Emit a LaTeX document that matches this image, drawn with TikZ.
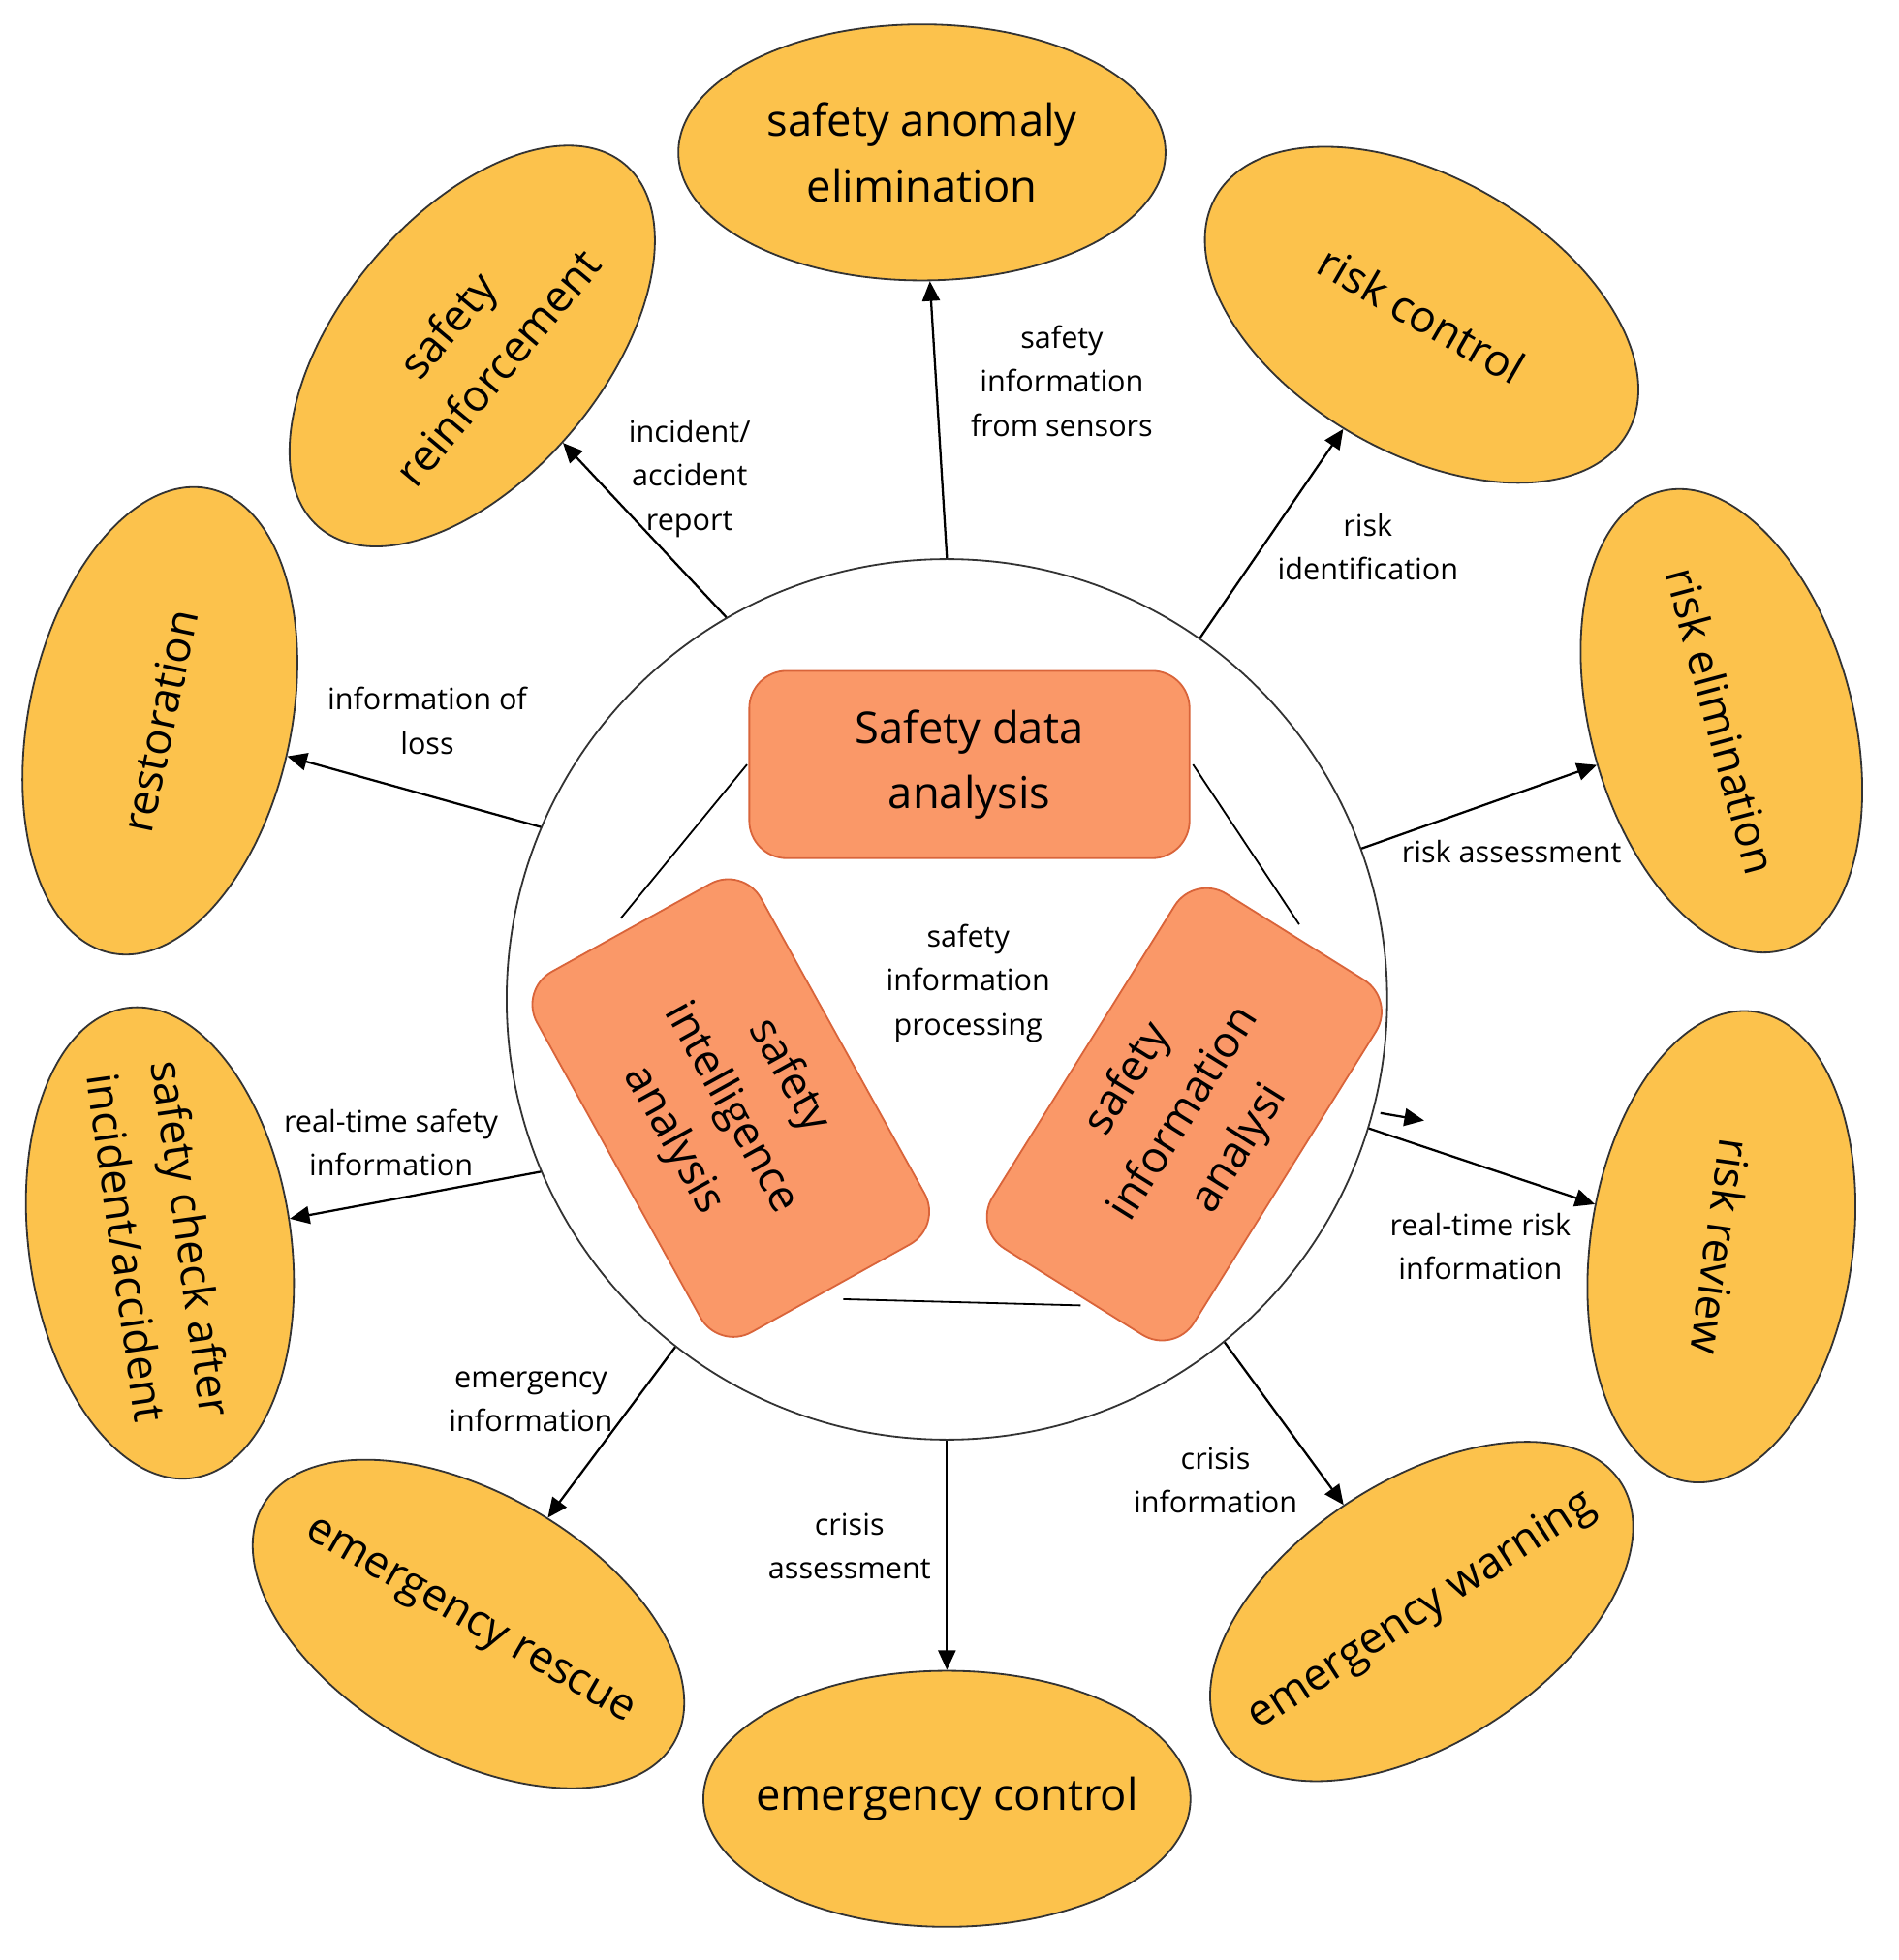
\documentclass[tikz,border=0pt]{standalone}
\usepackage{fontspec}
\setmainfont{Open Sans}
\usetikzlibrary{shapes.geometric,arrows.meta}
\definecolor{ell}{HTML}{FCC24C}
\definecolor{box}{HTML}{FA9868}
\definecolor{boxb}{HTML}{D9643A}
\tikzset{
 oval/.style={ellipse,draw=black!80,line width=0.8pt,fill=ell,minimum width=7.6cm,minimum height=4.2cm,inner sep=0pt},
 otext/.style={align=center,font=\fontsize{20}{30}\selectfont,inner sep=0pt},
 core/.style={rectangle,rounded corners=0.6cm,draw=boxb,line width=0.8pt,fill=box,align=center,font=\fontsize{20}{30}\selectfont},
 lab/.style={align=center,font=\fontsize{13.5}{20}\selectfont,inner sep=1pt},
 arr/.style={-{Triangle[length=9pt,width=8pt]},line width=1pt,black},
}
\begin{document}
\begin{tikzpicture}[x=0.02cm,y=-0.02cm]
\useasboundingbox (0,0) rectangle (1520,1569);
\fill[white] (0,0) rectangle (1520,1569);
\node[circle,draw=black!80,line width=0.8pt,minimum size=14.1cm,inner sep=0pt] (C) at (758,800) {};
% triangle segments
\draw[line width=0.8pt] (598,612) -- (497,735);
\draw[line width=0.8pt] (955,612) -- (1040,740);
\draw[line width=0.8pt] (675,1040) -- (865,1045);
\node[core,minimum width=7.05cm,minimum height=3cm] (SDA) at (776,612) {Safety data\\analysis};
\node[core,rotate=-61,minimum width=6.6cm,minimum height=4.1cm] (SIA) at (585,887) {safety\\intelligence\\analysis};
\node[core,rotate=58,minimum width=6.7cm,minimum height=3.8cm] (SIN) at (948,892) {safety\\information\\analysi};
\node[lab] (proc) at (775,787) {safety\\information\\processing};
% ellipses
\node[oval,minimum width=7.8cm,minimum height=4.1cm] (E1) at (738,122) {};
\node[otext] at (E1) {safety anomaly\\elimination};
\node[oval,rotate=-30,minimum height=4.4cm] (E2) at (1138,252) {};
\node[otext,rotate=-30] at (E2) {risk control};
\node[oval,rotate=-75] (E3) at (1378,577) {};
\node[otext,rotate=-75] at (E3) {risk elimination};
\node[oval,rotate=-98] (E4) at (1378,998) {};
\node[otext,rotate=-98] at (E4) {risk review};
\node[oval,rotate=33] (E5) at (1138,1290) {};
\node[otext,rotate=33] at (E5) {emergency warning};
\node[oval,minimum width=7.8cm,minimum height=4.1cm] (E6) at (758,1440) {};
\node[otext] at (E6) {emergency control};
\node[oval,rotate=-30] (E7) at (375,1300) {};
\node[otext,rotate=-30] at (E7) {emergency rescue};
\node[oval,rotate=-82] (E8) at (128,995) {};
\node[otext,rotate=-82] at (E8) {safety check after\\incident/accident};
\node[oval,rotate=78] (E9) at (128,577) {};
\node[otext,rotate=78] at (E9) {restoration};
\node[oval,rotate=50] (E10) at (378,277) {};
\node[otext,rotate=50] at (E10) {safety\\reinforcement};
% arrows
\draw[arr] (C.north) -- (E1);
\draw[arr] (C.55) -- (E2);
\draw[arr] (C.20) -- (E3);
\draw[arr] (C.-17) -- (E4);
\draw[arr] (C.-51) -- (E5);
\draw[arr] (C.south) -- (E6);
\draw[arr] (C.-128) -- (E7);
\draw[arr] (C.-157) -- (E8);
\draw[arr] (C.157) -- (E9);
\draw[arr] (C.120) -- (E10);
\coordinate (s1) at (1105,891);
\coordinate (s2) at (1140,897);
\draw[arr] (s1) -- (s2);
% labels
\node[lab] at (850,305) {safety\\information\\from sensors};
\node[lab] at (552,383) {incident/\\accident\\report};
\node[lab] at (1095,438) {risk\\identification};
\node[lab] at (342,577) {information of\\loss};
\node[lab] at (1210,682) {risk assessment};
\node[lab] at (313,915) {real-time safety\\information};
\node[lab] at (1185,998) {real-time risk\\information};
\node[lab] at (425,1122) {emergency\\information};
\node[lab] at (973,1185) {crisis\\information};
\node[lab] at (680,1238) {crisis\\assessment};
\end{tikzpicture}
\end{document}
